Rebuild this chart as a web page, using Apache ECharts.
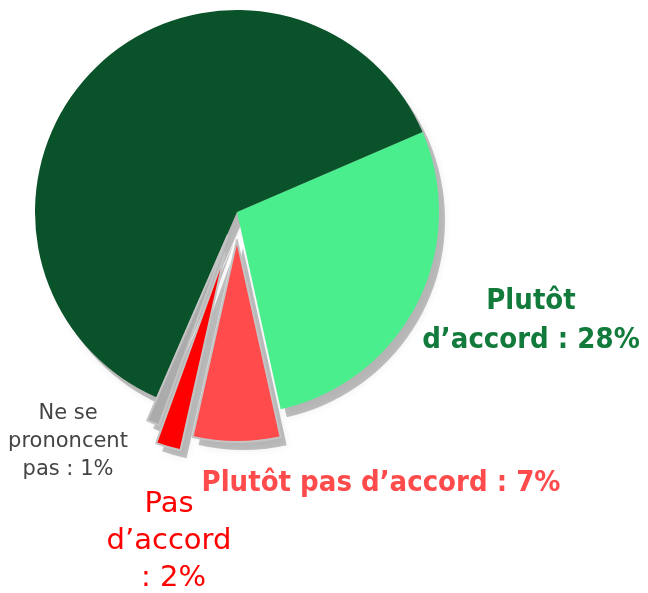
<!DOCTYPE html>
<html>
<head>
<meta charset="utf-8">
<script src="https://cdn.jsdelivr.net/npm/echarts@6/dist/echarts.min.js"></script>
<style>
  html, body { margin: 0; padding: 0; background: #fff; }
  #chart { width: 648px; height: 593px; }
</style>
</head>
<body>
<div id="chart"></div>
<script>
// Data, clockwise from the top of the light green slice
const names = ['Plutôt\nd’accord', 'Plutôt pas d’accord', 'Pas\nd’accord\n', 'Ne se\nprononcent\npas', 'Tout à fait d’accord'];
const values = [28, 7, 2, 1, 62];

// Styles
const explodeOffsets = [0, 28, 43, 25, 0];
const sliceColors = ['#4AEE8D', '#FF4B4B', '#FF0000', '#ABABAB', '#0A5229'];
const labelColors = ['#127A3B', '#FF4B4B', '#FF0000', '#444444', '#0A5229'];
const BOLD_FONT = '"DejaVu Sans Condensed", "DejaVu Sans", sans-serif';
const REG_FONT = '"DejaVu Sans", sans-serif';
const labelFonts = [
  { size: 29, weight: 'bold', lh: 39, family: BOLD_FONT },
  { size: 29, weight: 'bold', lh: 39, family: BOLD_FONT },
  { size: 29, weight: 'normal', lh: 37, family: REG_FONT },
  { size: 21, weight: 'normal', lh: 28, family: REG_FONT },
  null,
];
const labelPos = [[531, 321], [381, 483], [169, 541], [68, 442], null];

const CENTER = [237, 212];
const RADIUS = 202;
const START = 23.3;

const chart = echarts.init(document.getElementById('chart'), null, { renderer: 'canvas' });

// one pie per explode distance (selectedOffset is per series); other slices left empty
function sliceData(offset, forShadow) {
  return values.map((v, i) => {
    const mine = explodeOffsets[i] === offset;
    let style;
    if (!mine) style = { color: 'rgba(0,0,0,0)', borderWidth: 0 };
    else if (forShadow) style = { color: 'rgba(0,0,0,0.24)', shadowBlur: 8, shadowColor: 'rgba(0,0,0,0.3)' };
    else style = {
      color: sliceColors[i],
      borderColor: offset ? '#c4c4c4' : 'rgba(0,0,0,0)',
      borderWidth: offset ? 2 : 0,
    };
    return { name: names[i], value: v, selected: offset > 0, itemStyle: style };
  });
}

const groups = [...new Set(explodeOffsets)];
const series = [];
groups.forEach((off) => {
  [true, false].forEach((forShadow) => {
    series.push({
      type: 'pie',
      center: forShadow ? [CENTER[0] + 6, CENTER[1] + 8] : CENTER,
      radius: RADIUS,
      startAngle: START,
      clockwise: true,
      selectedMode: 'multiple',
      selectedOffset: off,
      z: forShadow ? 1 : 2,
      label: { show: false },
      labelLine: { show: false },
      emphasis: { disabled: true },
      silent: true,
      data: sliceData(off, forShadow),
    });
  });
});

const labels = values.map((v, i) => labelPos[i] ? {
  type: 'text',
  x: labelPos[i][0],
  y: labelPos[i][1],
  z: 100,
  style: {
    text: `${names[i]} : ${v}%`,
    fill: labelColors[i],
    font: `${labelFonts[i].weight} ${labelFonts[i].size}px ${labelFonts[i].family}`,
    lineHeight: labelFonts[i].lh,
    align: 'center',
    verticalAlign: 'middle',
  },
} : null).filter(Boolean);

chart.setOption({
  animation: false,
  backgroundColor: '#fff',
  series,
  graphic: labels,
});
</script>
</body>
</html>
